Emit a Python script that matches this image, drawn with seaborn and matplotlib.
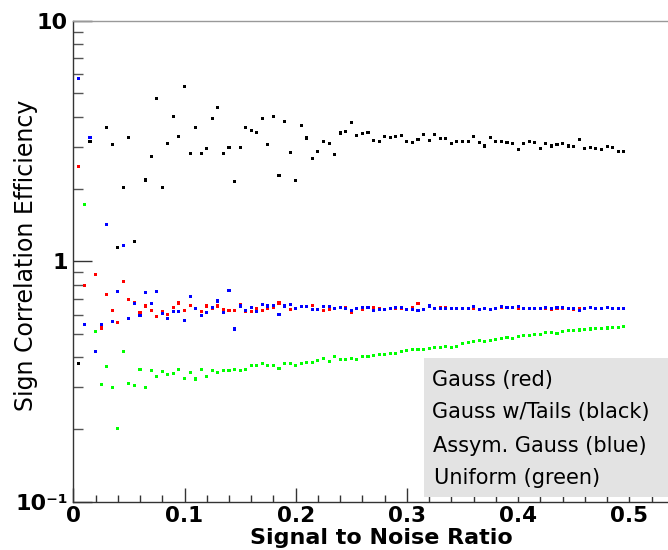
import numpy as np
import pandas as pd
import matplotlib
matplotlib.use("Agg")
import matplotlib.pyplot as plt
import seaborn as sns
from matplotlib.patches import Rectangle
from matplotlib.ticker import FixedLocator, NullFormatter

NAN = np.nan

# Signal/noise points: k * 0.005, k = 1..99
SNR_STEP = 0.005
N_POINTS = 99

gauss_red = [
    2.48, 0.797, NAN, 0.88, 0.528, 0.729, 0.627, 0.557, 0.822, 0.692,
    0.677, 0.613, 0.652, 0.627, 0.590, 0.619, 0.603, 0.641, 0.671, 0.623,
    0.656, 0.635, 0.619, 0.652, 0.637, 0.652, 0.633, 0.627, 0.627, 0.662,
    0.617, 0.617, 0.635, 0.627, 0.635, 0.643, 0.671, 0.650, 0.631, 0.637,
    0.650, 0.648, 0.658, 0.629, 0.627, 0.629, 0.637, 0.643, 0.640, 0.611,
    0.635, 0.633, 0.643, 0.641, 0.635, 0.633, 0.637, 0.637, 0.639, 0.631,
    0.645, 0.669, 0.631, 0.648, 0.639, 0.643, 0.641, 0.637, 0.635, 0.639,
    0.637, 0.639, 0.633, 0.635, 0.633, 0.635, 0.645, 0.643, 0.641, 0.639,
    0.637, 0.637, 0.635, 0.637, 0.639, 0.631, 0.639, 0.639, 0.637, 0.633,
    0.637, 0.639, 0.643, 0.639, 0.639, 0.643, 0.639, 0.639, 0.639,
]

tails_black = [
    0.376, NAN, 3.15, NAN, NAN, 3.62, 3.05, 1.147, 2.02, 3.29,
    1.21, NAN, 2.18, 2.72, 4.78, 2.03, 3.10, 4.02, 3.31, 5.33,
    2.82, 3.62, 2.80, 2.95, 3.94, 4.37, 2.82, 2.98, 2.14, 2.99,
    3.60, 3.50, 3.44, 3.94, 3.05, 4.02, 2.27, 3.83, 2.83, 2.16,
    3.68, 3.26, 2.68, 2.87, 3.14, 3.10, 2.79, 3.42, 3.46, 3.79,
    3.33, 3.41, 3.44, 3.19, 3.14, 3.31, 3.28, 3.31, 3.35, 3.14,
    3.12, 3.22, 3.38, 3.19, 3.36, 3.24, 3.24, 3.10, 3.14, 3.14,
    3.16, 3.31, 3.13, 3.02, 3.28, 3.16, 3.16, 3.12, 3.10, 2.93,
    3.10, 3.14, 3.12, 2.95, 3.10, 3.02, 3.07, 3.10, 3.02, 3.00,
    3.22, 2.95, 2.98, 2.95, 2.93, 3.00, 2.98, 2.87, 2.87,
]

assym_blue = [
    5.74, 0.548, 3.29, 0.423, 0.547, 1.426, 0.561, 0.752, 1.166, 0.577,
    0.666, 0.594, 0.743, 0.669, 0.747, 0.609, 0.577, 0.617, 0.617, 0.568,
    0.712, 0.635, 0.594, 0.613, 0.641, 0.684, 0.613, 0.759, 0.523, 0.652,
    0.625, 0.641, 0.619, 0.662, 0.652, 0.654, 0.603, 0.652, 0.660, 0.637,
    0.650, 0.648, 0.631, 0.629, 0.650, 0.648, 0.639, 0.641, 0.639, 0.625,
    0.637, 0.641, 0.641, 0.625, 0.633, 0.633, 0.639, 0.641, 0.643, 0.629,
    0.633, 0.625, 0.629, 0.652, 0.637, 0.635, 0.637, 0.635, 0.637, 0.637,
    0.637, 0.647, 0.633, 0.635, 0.633, 0.635, 0.647, 0.645, 0.643, 0.650,
    0.639, 0.639, 0.639, 0.639, 0.641, 0.635, 0.641, 0.641, 0.639, 0.635,
    0.623, 0.639, 0.641, 0.639, 0.639, 0.641, 0.639, 0.639, 0.639,
]

uniform_green = [
    NAN, 1.73, NAN, 0.511, 0.308, 0.366, 0.300, 0.2025, 0.421, 0.311,
    0.305, 0.356, 0.300, 0.352, 0.331, 0.347, 0.339, 0.341, 0.354, 0.326,
    0.346, 0.324, 0.355, 0.331, 0.353, 0.344, 0.350, 0.353, 0.355, 0.352,
    0.355, 0.368, 0.368, 0.3775, 0.368, 0.368, 0.359, 0.376, 0.376, 0.368,
    0.376, 0.380, 0.381, 0.387, 0.393, 0.382, 0.402, 0.389, 0.389, 0.396,
    0.392, 0.402, 0.402, 0.406, 0.409, 0.409, 0.413, 0.413, 0.422, 0.425,
    0.429, 0.430, 0.431, 0.433, 0.437, 0.439, 0.444, 0.439, 0.444, 0.456,
    0.458, 0.466, 0.470, 0.464, 0.468, 0.472, 0.476, 0.481, 0.476, 0.486,
    0.490, 0.490, 0.495, 0.498, 0.504, 0.508, 0.500, 0.511, 0.514, 0.514,
    0.518, 0.519, 0.523, 0.525, 0.525, 0.528, 0.530, 0.533, 0.536,
]

legend_labels = ["Gauss (red)", "Gauss w/Tails (black)",
                 "Assym. Gauss (blue)", "Uniform (green)"]

x_major = [0, 0.1, 0.2, 0.3, 0.4, 0.5]
x_major_labels = ["0", "0.1", "0.2", "0.3", "0.4", "0.5"]
y_major = [0.1, 1, 10]
y_major_labels = ["10\u207b\u00b9", "1", "10"]

W, H = 668, 550


def fx(px):
    return px / W


def fy(py):
    return 1 - py / H


snr = SNR_STEP * np.arange(1, N_POINTS + 1)
frames = []
for name, values in [("green", uniform_green), ("red", gauss_red),
                     ("blue", assym_blue), ("black", tails_black)]:
    frames.append(pd.DataFrame({"snr": snr, "eff": values, "series": name}))
df = pd.concat(frames, ignore_index=True).dropna()

sns.set_style("ticks")
plt.rcParams["font.family"] = ["DejaVu Sans"]
plt.rcParams["text.color"] = "black"
plt.rcParams["xtick.labelcolor"] = "black"
plt.rcParams["ytick.labelcolor"] = "black"

fig = plt.figure(figsize=(W / 100, H / 100), dpi=100)
x0, y_top, y_bot = 73.3, 21.0, 501.7
ax = fig.add_axes([fx(x0), fy(y_bot), (W - x0) / W, (y_bot - y_top) / H])

palette = {"red": "#ff0000", "blue": "#0000ff", "green": "#00ff00", "black": "#000000"}
sns.scatterplot(data=df, x="snr", y="eff", hue="series", palette=palette,
                marker="s", s=4.8, linewidth=0, legend=False, ax=ax)

ax.set_yscale("log")
ax.set_xlim(0, (W - x0) / 1112)
ax.set_ylim(0.1, 10)
ax.set_xlabel("")
ax.set_ylabel("")

ax.set_xticks(x_major)
ax.set_xticklabels(x_major_labels)
ax.xaxis.set_minor_locator(FixedLocator(np.arange(0.02, 0.535, 0.02)))
ax.set_yticks(y_major)
ax.set_yticklabels(y_major_labels)
ax.yaxis.set_minor_locator(FixedLocator([m * 10.0 ** d for d in (-1, 0) for m in range(2, 10)]))
ax.yaxis.set_minor_formatter(NullFormatter())

ax.tick_params(axis="x", which="major", direction="in", length=10, width=1,
               pad=3, labelsize=15.5, color="#333333", labelcolor="black")
ax.tick_params(axis="x", which="minor", direction="in", length=5, width=1, color="#333333")
ax.tick_params(axis="y", which="major", direction="in", length=13.5, width=1,
               pad=4, labelsize=16, color="#333333", labelcolor="black")
ax.tick_params(axis="y", which="minor", direction="in", length=7, width=1, color="#555555")
for lbl in ax.get_xticklabels() + ax.get_yticklabels():
    lbl.set_fontweight("bold")

ax.spines["right"].set_visible(False)
ax.spines["top"].set_color("#999999")
ax.spines["left"].set_color("#333333")
ax.spines["bottom"].set_color("#333333")
for s in ax.spines.values():
    s.set_linewidth(1)

fig.text(fx(381), fy(544.5), "Signal to Noise Ratio", ha="center", va="baseline",
         fontsize=16, fontweight="bold", color="black")
fig.text(fx(26), fy(255), "Sign Correlation Efficiency", ha="center", va="center",
         rotation=90, fontsize=17, color="black")

fig.add_artist(Rectangle((fx(424), fy(497)), (W - 424) / W, (497 - 358) / H,
                         transform=fig.transFigure, facecolor="#e3e3e3",
                         edgecolor="none"))
for label, ypix, xpix in zip(legend_labels, [380, 412, 446, 478], [432, 432, 433, 434]):
    fig.text(fx(xpix), fy(ypix), label, ha="left", va="center", fontsize=15,
             color="black")

fig.savefig("out.png", dpi=100)
